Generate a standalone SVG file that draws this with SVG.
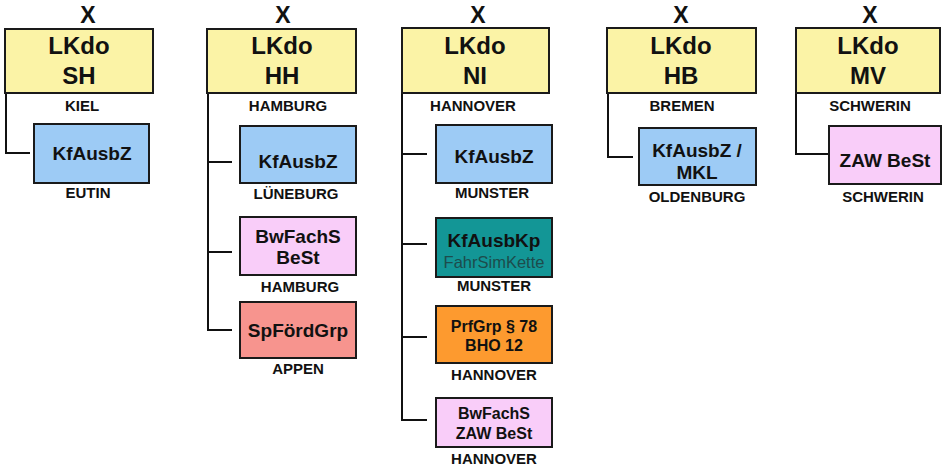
<svg xmlns="http://www.w3.org/2000/svg" width="944" height="471" viewBox="0 0 944 471">
<style>
text{font-family:"Liberation Sans",Arial,sans-serif;font-weight:bold;text-anchor:middle;fill:#111}
.x{font-size:23px}
.hq{font-size:24px}
.lbl{font-size:15px}
.t{font-size:19px}
.s{font-size:16px}
.fs{font-size:16.5px;font-weight:normal;fill:#1d4c4c}
.box{stroke:#1a1a1a;stroke-width:2}
.yel{fill:#FBF3A6}
.blu{fill:#9DCBF5}
.pnk{fill:#F9CDF9}
.red{fill:#F7948E}
.tea{fill:#139696}
.org{fill:#FD9A2F}
#connectors path{fill:none;stroke:#111;stroke-width:2}
</style>
<rect width="944" height="471" fill="#fff"/>
<g id="connectors">
<path d="M6 93V153H30"/>
<path d="M208 93V330H232M208 162H232M208 252H232"/>
<path d="M402 93V420H427M402 154H427M402 244H427M402 337H427"/>
<path d="M608 93V157H633"/>
<path d="M796 93V154H829"/>
</g>
<g id="lkdo-sh">
<text class="x" x="88" y="23">X</text>
<rect class="box yel" x="5" y="29" width="148" height="64"/>
<text class="hq" x="79" y="54">LKdo</text>
<text class="hq" x="79" y="84">SH</text>
<text class="lbl" x="82" y="111">KIEL</text>
</g>
<g id="sh-kfausbz">
<rect class="box blu" x="34" y="124" width="115" height="59"/>
<text class="t" x="92" y="160">KfAusbZ</text>
<text class="lbl" x="88" y="198">EUTIN</text>
</g>
<g id="lkdo-hh">
<text class="x" x="283" y="23">X</text>
<rect class="box yel" x="207" y="29" width="149" height="64"/>
<text class="hq" x="282" y="54">LKdo</text>
<text class="hq" x="282" y="84">HH</text>
<text class="lbl" x="288" y="111">HAMBURG</text>
</g>
<g id="hh-kfausbz">
<rect class="box blu" x="240" y="126" width="116" height="57"/>
<text class="t" x="298" y="168">KfAusbZ</text>
<text class="lbl" x="296" y="199">LÜNEBURG</text>
</g>
<g id="hh-bwfachs">
<rect class="box pnk" x="240" y="217" width="116" height="58"/>
<text class="t" x="298" y="243">BwFachS</text>
<text class="t" x="298" y="264">BeSt</text>
<text class="lbl" x="300" y="292">HAMBURG</text>
</g>
<g id="hh-spfoerdgrp">
<rect class="box red" x="240" y="302" width="116" height="56"/>
<text class="t" x="298" y="337">SpFördGrp</text>
<text class="lbl" x="298" y="374">APPEN</text>
</g>
<g id="lkdo-ni">
<text class="x" x="478" y="23">X</text>
<rect class="box yel" x="402" y="28" width="147" height="65"/>
<text class="hq" x="475" y="54">LKdo</text>
<text class="hq" x="475" y="84">NI</text>
<text class="lbl" x="473" y="111">HANNOVER</text>
</g>
<g id="ni-kfausbz">
<rect class="box blu" x="436" y="125" width="116" height="58"/>
<text class="t" x="494" y="163">KfAusbZ</text>
<text class="lbl" x="492" y="198">MUNSTER</text>
</g>
<g id="ni-kfausbkp">
<rect class="box tea" x="436" y="218" width="116" height="59"/>
<text class="t" x="494" y="247">KfAusbKp</text>
<text class="fs" x="494" y="268">FahrSimKette</text>
<text class="lbl" x="494" y="291">MUNSTER</text>
</g>
<g id="ni-prfgrp">
<rect class="box org" x="436" y="306" width="116" height="57"/>
<text class="s" x="494" y="332">PrfGrp § 78</text>
<text class="s" x="494" y="351">BHO 12</text>
<text class="lbl" x="494" y="380">HANNOVER</text>
</g>
<g id="ni-bwfachs">
<rect class="box pnk" x="436" y="398" width="116" height="49"/>
<text class="s" x="494" y="419">BwFachS</text>
<text class="s" x="494" y="439">ZAW BeSt</text>
<text class="lbl" x="494" y="464">HANNOVER</text>
</g>
<g id="lkdo-hb">
<text class="x" x="681" y="23">X</text>
<rect class="box yel" x="607" y="28" width="149" height="65"/>
<text class="hq" x="681" y="54">LKdo</text>
<text class="hq" x="681" y="84">HB</text>
<text class="lbl" x="682" y="111">BREMEN</text>
</g>
<g id="hb-kfausbz">
<rect class="box blu" x="639" y="128" width="117" height="57"/>
<text class="t" x="697" y="157">KfAusbZ /</text>
<text class="t" x="697" y="179">MKL</text>
<text class="lbl" x="697" y="202">OLDENBURG</text>
</g>
<g id="lkdo-mv">
<text class="x" x="870" y="23">X</text>
<rect class="box yel" x="796" y="28" width="144" height="65"/>
<text class="hq" x="868" y="54">LKdo</text>
<text class="hq" x="868" y="84">MV</text>
<text class="lbl" x="870" y="111">SCHWERIN</text>
</g>
<g id="mv-zawbest">
<rect class="box pnk" x="829" y="126" width="112" height="58"/>
<text class="t" x="885" y="167">ZAW BeSt</text>
<text class="lbl" x="883" y="202">SCHWERIN</text>
</g>
</svg>
